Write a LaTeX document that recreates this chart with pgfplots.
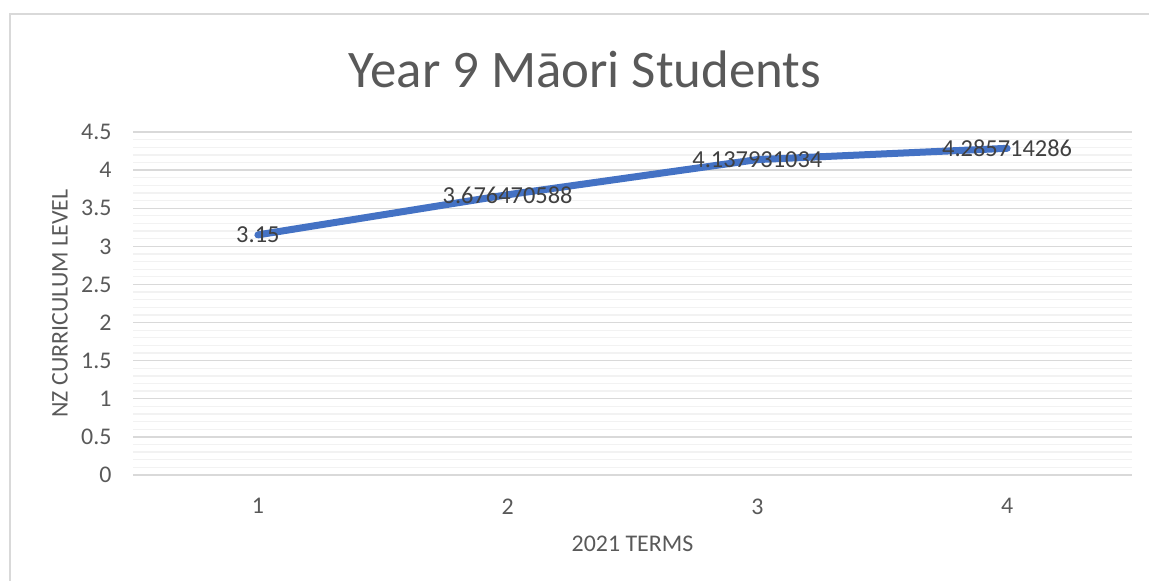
\documentclass[border=0pt]{standalone}
\usepackage{pgfplots}
\pgfplotsset{compat=1.18}
\usepackage{fontspec}
\setmainfont{Carlito}
\definecolor{txt}{HTML}{595959}
\definecolor{lbl}{HTML}{404040}
\definecolor{major}{HTML}{D9D9D9}
\definecolor{minorg}{HTML}{F2F2F2}
\definecolor{series}{HTML}{4472C4}
\begin{document}
\begin{tikzpicture}[x=1bp,y=1bp]
\path[use as bounding box] (0,0) rectangle (1149,581);
\draw[major, line width=1.5bp] (10,0) -- (10,567) -- (1149,567);
\node[font=\fontsize{53}{60}\selectfont, text=txt] at (585,512) {Year 9 Māori Students};
\begin{axis}[
  at={(133bp,106bp)}, anchor=south west,
  width=999bp, height=343bp, scale only axis,
  xmin=0.5, xmax=4.5, ymin=0, ymax=4.5,
  xtick={1,2,3,4}, ytick={0,0.5,...,4.5},
  minor y tick num=4,
  ymajorgrids, yminorgrids,
  major grid style={major, line width=1.3bp},
  minor grid style={minorg, line width=1.3bp},
  axis line style={draw=none},
  axis x line*=bottom,
  x axis line style={major, line width=1.3bp},
  major tick length=0pt, minor tick length=0pt,
  tick style={draw=none},
  ticklabel style={font=\fontsize{24}{28}\selectfont, text=txt},
  /pgf/number format/assume math mode=true,
  yticklabel style={/pgf/number format/fixed},
  xticklabel style={yshift=-20bp},
  yticklabel style={xshift=-18bp},
  xlabel={2021 TERMS}, ylabel={NZ CURRICULUM LEVEL},
  label style={font=\fontsize{24}{28}\selectfont, text=txt},
  xlabel style={at={(0.5,0)}, yshift=-69bp, anchor=center},
  ylabel style={at={(0,0.5)}, yshift=73bp, anchor=center},
  clip=false,
]
\addplot[series, line width=7bp, line cap=round, line join=round,
  nodes near coords, point meta=explicit symbolic,
  every node near coord/.style={anchor=center, font=\fontsize{24.5}{28}\selectfont, text=lbl}]
  coordinates {(1,3.15) [3.15] (2,3.676470588) [3.676470588] (3,4.137931034) [4.137931034] (4,4.285714286) [4.285714286]};
\end{axis}
\end{tikzpicture}
\end{document}
